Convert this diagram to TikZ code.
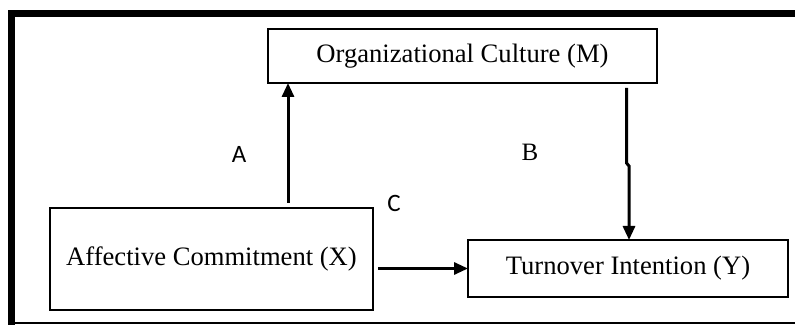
\documentclass[tikz,border=0pt]{standalone}
\usepackage{fontspec}
\setmainfont{Liberation Serif}
\newfontfamily\labelfont{Carlito}
\usetikzlibrary{calc,arrows.meta}

\tikzset{
  varbox/.style={draw, line width=1pt, inner sep=0pt, outer sep=0pt, font=\fontsize{13.3}{15}\selectfont},
  path/.style={line width=1.5pt, -{Triangle[width=6pt,length=7pt]}},
  pathlabel/.style={font=\labelfont\fontsize{12.5}{14}\selectfont},
}

\begin{document}
\begin{tikzpicture}[x=0.5pt, y=-0.5pt]

\useasboundingbox (0,0) rectangle (795,325);

% --------- Frame (top, left, bottom) ----------
\draw[line width=3.4pt] (11.5,325) -- (11.5,13.5) -- (795,13.5);
\draw[line width=1pt] (8,322.5) -- (795,322.5);

% --------- Variables ----------
\node[varbox, minimum width=194.5pt, minimum height=27pt]   (M) at (462.5,56)  {Organizational Culture (M)};
\node[varbox, minimum width=161.5pt, minimum height=51pt]   (X) at (211.5,259) {Affective Commitment (X)};
\node[varbox, minimum width=160pt,   minimum height=28.5pt] (Y) at (628,268.5) {Turnover Intention (Y)};

% --------- Paths ----------
% a: X -> M
\coordinate (a0) at ($(X.north -| 288,0)+(0,-5)$);
\draw[path] (a0) -- (a0 |- M.south);

% b: M -> Y (with the small kink)
\coordinate (b0) at ($(M.south -| 626.5,0)+(0,5)$);
\coordinate (b1) at (626.5,163);
\coordinate (b2) at (629,166);
\draw[path] (b0) -- (b1) -- (b2) -- (b2 |- Y.north);

% c: X -> Y
\coordinate (c0) at ($(X.east |- Y.west)+(5,0)$);
\draw[path] (c0) -- (Y.west);

% --------- Path labels ----------
\node[pathlabel] (la) at (239,154) {A};
\node[font=\fontsize{12.5}{14}\selectfont] (lb) at (530,152) {B};
\node[pathlabel] (lc) at (394,203) {C};

\end{tikzpicture}
\end{document}
